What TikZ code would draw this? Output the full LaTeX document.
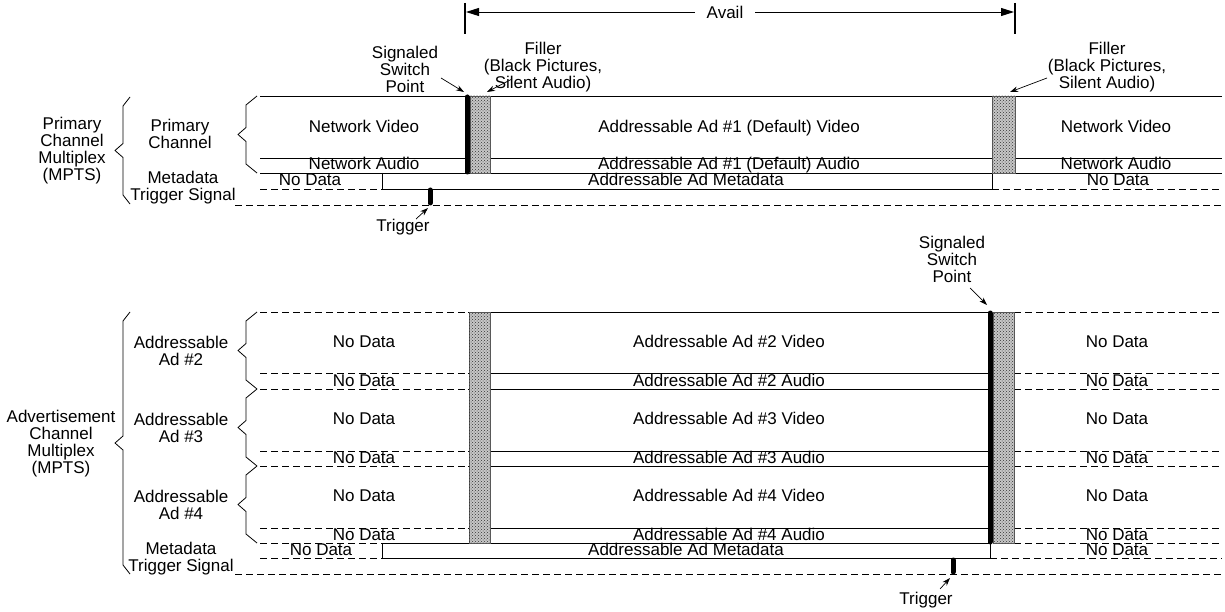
\documentclass[tikz,border=0pt]{standalone}
\usepackage{fontspec}
\setmainfont{Liberation Sans}
\usetikzlibrary{arrows.meta,patterns}

% angular curly brace: x of the ends, x of the spine, x of the tip, top y, bottom y
\newcommand\angbrace[5]{%
  \draw[bracestyle] (#1,#4) -- (#2,{#4+9}) -- (#2,{(#4+#5)/2-7}) -- (#3,{(#4+#5)/2})
    -- (#2,{(#4+#5)/2+7}) -- (#2,{#5-9}) -- (#1,#5);}

\begin{document}
\begin{tikzpicture}[x=1pt,y=-1pt,
  every node/.style={font=\fontsize{17}{17}\selectfont, inner sep=0pt, align=center},
  txt/.style={text height=12.2pt, text depth=0pt},
  solidline/.style={line width=0.9pt},
  dashline/.style={line width=0.9pt, dash pattern=on 7pt off 4pt},
  bracestyle/.style={line width=0.8pt, line join=round},
  filler/.style={draw=black!65, line width=0.6pt, fill=black!22,
    postaction={pattern=crosshatch dots, pattern color=black!80}},
  switchbar/.style={line width=5pt, line cap=round},
  pulse/.style={line width=5pt, line cap=round},
  ptr/.style={line width=0.7pt, -{Stealth[length=8pt,width=5.5pt]}},
  availarrow/.style={line width=0.9pt, -{Triangle[length=13pt,width=8pt]}}
]
\useasboundingbox (0,0) rectangle (1225,612);

% ---------------- Avail span ----------------
\draw[line width=1.6pt] (465,3) -- (465,34);
\draw[line width=1.6pt] (1015,3) -- (1015,34);
\coordinate (availL) at (466,12);
\coordinate (availR) at (1014,12);
\node[txt, fill=white, inner xsep=12pt] (avail) at (725,12) {Avail};
\draw[availarrow] (avail.west) -- (availL);
\draw[availarrow] (avail.east) -- (availR);

% ---------------- Primary channel multiplex ----------------
\draw[solidline] (260,96) -- (1222,96);
\draw[solidline] (260,158) -- (1222,158);
\draw[solidline] (260,173) -- (1222,173);
\draw[dashline] (260,189) -- (382,189);
\draw[solidline] (382,189) -- (992,189);
\draw[dashline] (992,189) -- (1222,189);
\draw[solidline] (382,173) -- (382,189);
\draw[solidline] (992,173) -- (992,189);
\draw[dashline] (235,205) -- (1222,205);

\filldraw[filler] (470,96) rectangle (490,173);
\filldraw[filler] (992,96) rectangle (1015,173);
\draw[switchbar] (467,97) -- (467,172);
\draw[pulse] (430,190) -- (430,203);

\node[txt] (pv1) at (364,126) {Network Video};
\node[txt] (pv2) at (729,126) {Addressable Ad \#1 (Default) Video};
\node[txt] (pv3) at (1116,126) {Network Video};
\node[txt] (pa1) at (364,163.5) {Network Audio};
\node[txt] (pa2) at (729,163.5) {Addressable Ad \#1 (Default) Audio};
\node[txt] (pa3) at (1116,163.5) {Network Audio};
\node[txt] (pm1) at (310,179.5) {No Data};
\node[txt] (pm2) at (686,179.5) {Addressable Ad Metadata};
\node[txt] (pm3) at (1118,179.5) {No Data};

\node (sspTop) at (405,69) {Signaled\\Switch\\Point};
\node (fillL) at (543,67) {Filler\\(Black Pictures,\\Silent Audio)};
\node (fillR) at (1107,67) {Filler\\(Black Pictures,\\Silent Audio)};
\coordinate (sspTopTail) at (441,78);
\coordinate (sspTopTip) at (464,92);
\coordinate (fillLTail) at (512,79);
\coordinate (fillLTip) at (487,92);
\coordinate (fillRTail) at (1047,78);
\coordinate (fillRTip) at (1010,92);
\draw[ptr] (sspTopTail) -- (sspTopTip);
\draw[ptr] (fillLTail) -- (fillLTip);
\draw[ptr] (fillRTail) -- (fillRTip);

\node[txt] (trigTop) at (403,225) {Trigger};
\coordinate (trigTopTail) at (416,219);
\coordinate (trigTopTip) at (428,208);
\draw[ptr] (trigTopTail) -- (trigTopTip);

\node (lblPC) at (180,134) {Primary\\Channel};
\node (lblPM) at (183,188) {Metadata\\Trigger Signal};
\node (lblPCM) at (72,151) {Primary\\Channel\\Multiplex\\(MPTS)};
\angbrace{257}{246}{238}{96}{173}
\angbrace{130}{123}{115}{97}{204}

% ---------------- Advertisement channel multiplex ----------------
\foreach \y in {312,373,389,451,466,528}{
  \draw[dashline] (260,\y) -- (468,\y);
  \draw[solidline] (468,\y) -- (990,\y);
  \draw[dashline] (1014,\y) -- (1222,\y);
}
\draw[dashline] (260,543) -- (382,543);
\draw[solidline] (382,543) -- (990,543);
\draw[dashline] (1014,543) -- (1222,543);
\draw[dashline] (260,558) -- (382,558);
\draw[solidline] (382,558) -- (990,558);
\draw[dashline] (990,558) -- (1222,558);
\draw[solidline] (382,543) -- (382,558);
\draw[solidline] (990,543) -- (990,558);
\draw[dashline] (235,574) -- (1222,574);

\filldraw[filler] (469,312) rectangle (490,543);
\filldraw[filler] (993,312) rectangle (1014,543);
\draw[switchbar] (990,313) -- (990,542);
\draw[pulse] (953,560) -- (953,572);

\foreach \n/\t in {2/312,3/389,4/466}{
  \node[txt] (nv\n) at (364,\t+29.5) {No Data};
  \node[txt] (av\n) at (729,\t+29.5) {Addressable Ad \#\n\ Video};
  \node[txt] (rv\n) at (1117,\t+29.5) {No Data};
  \node[txt] (na\n) at (364,\t+68) {No Data};
  \node[txt] (aa\n) at (729,\t+68) {Addressable Ad \#\n\ Audio};
  \node[txt] (ra\n) at (1117,\t+68) {No Data};
  \node (lblAd\n) at (181,\t+39) {Addressable\\Ad \#\n};
  \angbrace{257}{246}{238}{\t}{\t+77}
}
\node[txt] (bm1) at (321,549.5) {No Data};
\node[txt] (bm2) at (686,549.5) {Addressable Ad Metadata};
\node[txt] (bm3) at (1117,549.5) {No Data};

\node (sspBot) at (952,259) {Signaled\\Switch\\Point};
\coordinate (sspBotTail) at (970,288);
\coordinate (sspBotTip) at (987,305);
\draw[ptr] (sspBotTail) -- (sspBotTip);

\node[txt] (trigBot) at (926,598) {Trigger};
\coordinate (trigBotTail) at (940,589);
\coordinate (trigBotTip) at (950,578);
\draw[ptr] (trigBotTail) -- (trigBotTip);

\node (lblBM) at (181,559) {Metadata\\Trigger Signal};
\node (lblACM) at (61,444) {Advertisement\\Channel\\Multiplex\\(MPTS)};
\angbrace{130}{123}{115}{312}{574}
\end{tikzpicture}
\end{document}
